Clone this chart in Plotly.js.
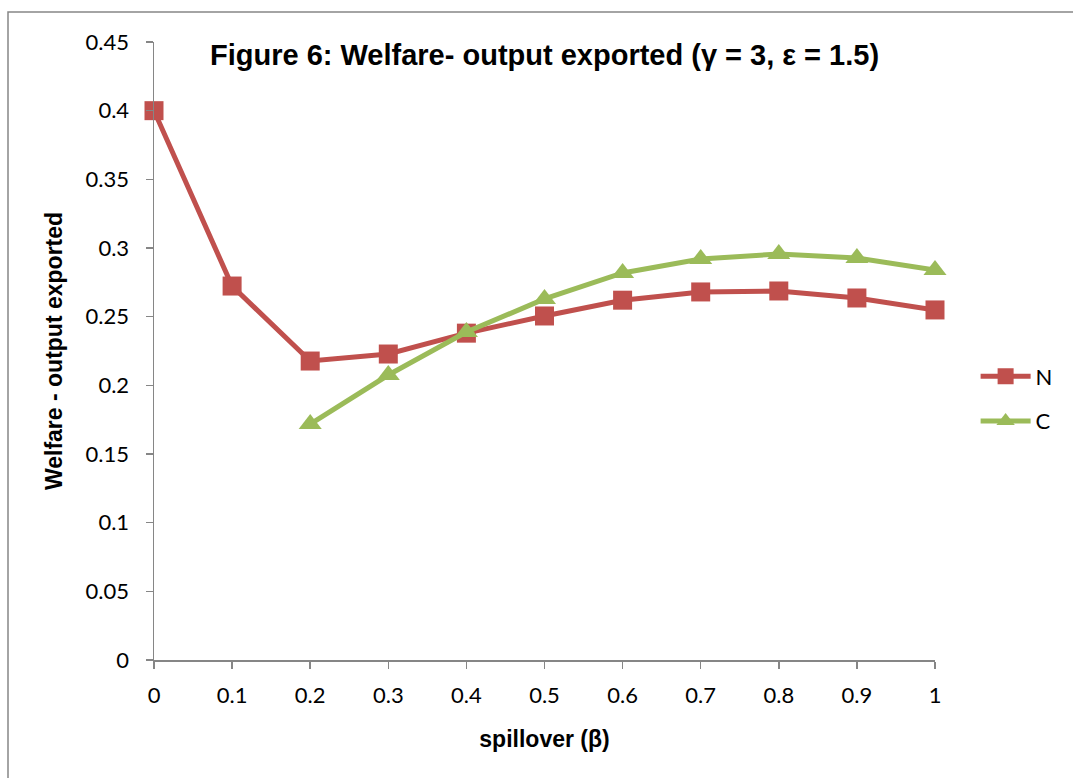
<!DOCTYPE html>
<html>
<head>
<meta charset="utf-8">
<script src="https://cdn.plot.ly/plotly-3.0.1.min.js"></script>
<style>html,body{margin:0;padding:0;background:#fff;}#chart{width:1073px;height:778px;}</style>
</head>
<body>
<div id="chart"></div>
<script>
const spillover = [0, 0.1, 0.2, 0.3, 0.4, 0.5, 0.6, 0.7, 0.8, 0.9, 1];
const seriesN = [0.4, 0.2723, 0.2177, 0.2228, 0.238, 0.2505, 0.262, 0.268, 0.2687, 0.2636, 0.2549];
const spilloverC = [0.2, 0.3, 0.4, 0.5, 0.6, 0.7, 0.8, 0.9, 1];
const seriesC = [0.1718, 0.2075, 0.2388, 0.2629, 0.2818, 0.292, 0.2956, 0.2927, 0.284];
const xTickVals = [0, 0.1, 0.2, 0.3, 0.4, 0.5, 0.6, 0.7, 0.8, 0.9, 1];
const xTickText = ['0', '0.1', '0.2', '0.3', '0.4', '0.5', '0.6', '0.7', '0.8', '0.9', '1'];
const yTickVals = [0, 0.05, 0.1, 0.15, 0.2, 0.25, 0.3, 0.35, 0.4, 0.45];
const yTickText = ['0', '0.05', '0.1', '0.15', '0.2', '0.25', '0.3', '0.35', '0.4', '0.45'];

const tickFont = {family: 'Lato, "Open Sans", sans-serif', size: 22, color: '#000'};
const boldFont = {family: '"Liberation Sans", Arial, sans-serif', size: 23, color: '#000', weight: 'bold'};

const traces = [
  {x: spillover, y: seriesN, name: 'N', mode: 'lines+markers', legendgroup: 'n', cliponaxis: false,
   line: {color: '#C0504D', width: 5},
   marker: {symbol: 'square', size: 19, color: '#C0504D'}},
  {x: spilloverC, y: seriesC, name: 'C', mode: 'lines+markers', legendgroup: 'c', cliponaxis: false,
   line: {color: '#9BBB59', width: 5},
   marker: {symbol: 'triangle-up', size: 20, color: '#9BBB59'}}
];

const layout = {
  width: 1073, height: 778,
  margin: {l: 154, r: 138, t: 42, b: 118},
  paper_bgcolor: '#fff', plot_bgcolor: '#fff',
  showlegend: true,
  title: {text: '<b>Figure 6: Welfare- output exported (γ = 3, ε = 1.5)</b>',
          font: {family: '"Liberation Sans", Arial, sans-serif', size: 29, color: '#000'},
          x: 0.5075, xanchor: 'center', y: 1 - 55/778, yanchor: 'middle'},
  xaxis: {range: [0, 1], tickvals: xTickVals, ticktext: xTickText,
          showgrid: false, zeroline: false, showline: true, linecolor: '#868686', linewidth: 1.5,
          ticks: 'outside', ticklen: 7, tickcolor: '#868686', tickwidth: 1.5,
          tickfont: tickFont, fixedrange: true, ticklabelstandoff: 8,
          title: {text: 'spillover (β)', font: boldFont, standoff: 24}},
  yaxis: {range: [0, 0.45], tickvals: yTickVals, ticktext: yTickText,
          showgrid: false, zeroline: false, showline: true, linecolor: '#868686', linewidth: 1.5,
          ticks: 'outside', ticklen: 7, tickcolor: '#868686', tickwidth: 1.5,
          tickfont: tickFont, fixedrange: true, ticklabelstandoff: 12,
          title: {text: 'Welfare - output exported', font: boldFont, standoff: 16}},
  legend: {x: 1.052, xanchor: 'left', y: (660 - 399) / 618, yanchor: 'middle',
           font: tickFont, traceorder: 'grouped', tracegroupgap: 13, itemwidth: 50,
           bgcolor: 'rgba(0,0,0,0)'},
  shapes: [{type: 'rect', xref: 'paper', yref: 'paper',
            x0: (8 - 154) / 781, x1: (1130 - 154) / 781,
            y0: (660 - 820) / 618, y1: 1 + (42 - 12) / 618,
            line: {color: '#868686', width: 1.5}, fillcolor: 'rgba(0,0,0,0)', layer: 'below'}]
};

Plotly.newPlot('chart', traces, layout, {displayModeBar: false, staticPlot: true});
</script>
</body>
</html>
